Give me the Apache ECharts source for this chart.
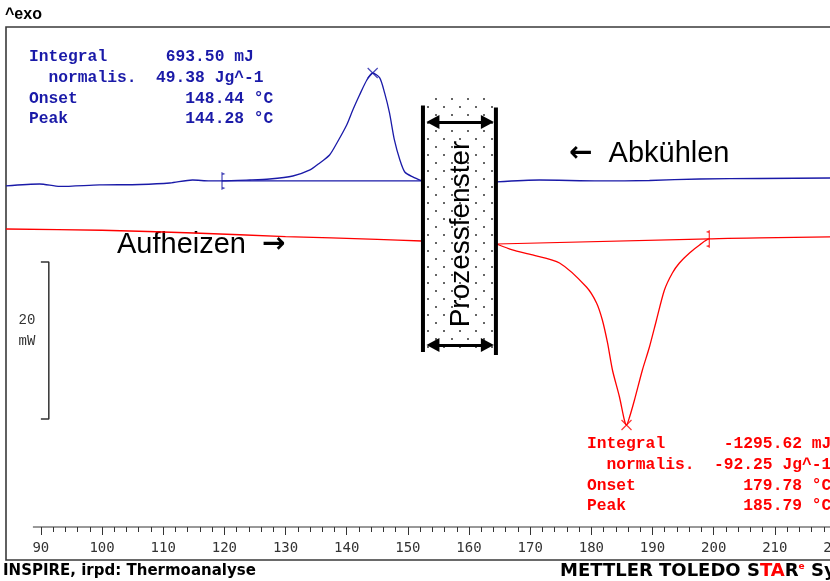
<!DOCTYPE html>
<html>
<head>
<meta charset="utf-8">
<script src="https://cdn.jsdelivr.net/npm/echarts@6/dist/echarts.min.js"></script>
<style>
  html, body { margin: 0; padding: 0; background: #fff; }
  #chart { width: 830px; height: 581px; }
</style>
</head>
<body>
<div id="chart"></div>
<script>
// temperature in °C, heat flow in mW (exo up)
const coolingT  = [84.3, 89.8, 93.1, 99.6, 106.2, 111.1, 114.8, 117.6, 119.6, 124.2, 127.4, 131.2, 134.0, 135.6, 137.2, 138.4, 140.0, 141.0, 142.1, 143.3, 144.25, 145.4, 146.2, 147.0, 147.8, 148.7, 149.5, 150.8, 152.3, 158.0, 164.5, 171.5, 181.3, 189.5, 197.7, 207.5, 220.0];
const coolingMW = [43.44, 43.69, 43.38, 43.57, 43.63, 43.82, 44.20, 44.08, 44.08, 44.20, 44.33, 44.71, 45.48, 46.37, 47.39, 48.92, 51.21, 53.12, 55.03, 56.94, 57.83, 57.20, 55.29, 52.74, 49.30, 46.75, 45.22, 44.59, 44.08, '-', 43.95, 44.20, 44.08, 44.14, 44.33, 44.39, 44.46];
const coolingBaseT  = [119.6, 152.3];
const coolingBaseMW = [44.08, 44.08];

const heatingT  = [84.3, 100.0, 115.0, 130.0, 145.0, 152.3, 158.0, 164.5, 167.1, 170.4, 174.8, 179.2, 180.85, 181.8, 182.65, 183.45, 184.6, 185.4, 185.75, 186.25, 187.05, 188.35, 189.5, 190.65, 191.95, 193.25, 194.4, 196.05, 197.7, 199.3, 207.5, 220.0];
const heatingMW = [37.96, 37.80, 37.45, 37.00, 36.65, 36.43, '-', 36.05, 35.29, 34.65, 33.63, 30.57, 28.54, 26.37, 23.44, 20.00, 16.56, 13.63, 12.99, 14.01, 16.18, 20.00, 22.93, 26.37, 30.19, 32.36, 33.63, 34.90, 35.92, 36.69, 36.82, 36.96];
const heatingBaseT  = [164.5, 199.3];
const heatingBaseMW = [36.05, 36.69];

const coolingPeak = [144.25, 57.83];
const heatingPeak = [185.75, 12.99];
const coolingLimit = [119.6, 44.08];
const heatingLimit = [199.3, 36.69];

// process window (Prozessfenster)
const windowT = [152.47, 164.4];
const windowMW = [22.3, 53.7];
const windowFillMW = [22.6, 54.8];
const windowArrowMW = [51.59, 23.18];
const windowArrowT = [154.1, 163.0];

// 20 mW scale bar
const scaleBarT = [90.0, 91.3];
const scaleBarMW = [13.76, 33.76];

// temperature axis
const axisT = [88.7, 220];
const majorTicks = [90, 100, 110, 120, 130, 140, 150, 160, 170, 180, 190, 200, 210, 220];
const minorTicks = [];
for (let t = 90; t <= 220; t += 2) minorTicks.push(t);

const blueText = ['Integral      693.50 mJ', '  normalis.  49.38 Jg^-1', 'Onset           148.44 °C', 'Peak            144.28 °C'];
const redText  = ['Integral      -1295.62 mJ', '  normalis.  -92.25 Jg^-1', 'Onset           179.78 °C', 'Peak            185.79 °C'];

const BLUE = '#1a1aa8';
const RED = '#ff0000';
const MONO = '"Liberation Mono", "DejaVu Sans Mono", monospace';
const SANS = '"Liberation Sans", Arial, sans-serif';
const BOLD = '"DejaVu Sans", "Liberation Sans", sans-serif';

function zip(xs, ys) {
  return xs.map((x, i) => [x, ys[i]]);
}

function dotPattern() {
  const c = document.createElement('canvas');
  c.width = 16; c.height = 16;
  const g = c.getContext('2d');
  g.fillStyle = '#fff';
  g.fillRect(0, 0, 16, 16);
  g.fillStyle = '#333';
  g.beginPath(); g.arc(4, 3, 1, 0, Math.PI * 2); g.fill();
  g.beginPath(); g.arc(12, 11, 1, 0, Math.PI * 2); g.fill();
  return c;
}

const crossSymbol = 'path://M0,0L10,10M10,0L0,10';
const limitRight = 'path://M0,0L4,2L1.2,3L1.2,15L4,16L0,18Z';
const limitLeft = 'path://M4,0L0,2L2.8,3L2.8,15L0,16L4,18Z';

const chart = echarts.init(document.getElementById('chart'));

const texts = [];
blueText.forEach((s, i) => {
  texts.push({ type: 'text', x: 29, y: 57 + i * 20.7, style: { text: s, fill: BLUE, font: 'bold 16.3px ' + MONO, verticalAlign: 'middle' } });
});
redText.forEach((s, i) => {
  texts.push({ type: 'text', x: 587, y: 444 + i * 20.7, style: { text: s, fill: RED, font: 'bold 16.3px ' + MONO, verticalAlign: 'middle' } });
});

const arrowRich = {
  a: { fill: '#000', color: '#000', fontFamily: '"DejaVu Sans", sans-serif', fontWeight: 'bold', fontSize: 28 },
  t: { fill: '#000', color: '#000', fontFamily: SANS, fontSize: 29 }
};

const option = {
  animation: false,
  backgroundColor: '#fff',
  grid: { left: 6, right: -6, top: 27, bottom: 54, outerBoundsMode: 'none' },
  xAxis: [
    {
      type: 'value', min: 84.3, max: 220, position: 'bottom',
      axisLine: { show: false },
      axisTick: { show: true, customValues: majorTicks, length: 8, lineStyle: { color: '#333' } },
      axisLabel: { customValues: majorTicks, color: '#333', fontFamily: '"DejaVu Sans Mono", monospace', fontSize: 14, margin: 14 },
      splitLine: { show: false }
    },
    {
      type: 'value', min: 84.3, max: 220, position: 'bottom', offset: 0,
      axisLine: { show: false },
      axisTick: { show: true, customValues: minorTicks, length: 5, lineStyle: { color: '#333' } },
      axisLabel: { show: false },
      splitLine: { show: false }
    }
  ],
  yAxis: { type: 'value', min: 0, max: 63.69, show: false },
  series: [
    {
      name: 'Achse', type: 'line', data: [[axisT[0], 0], [axisT[1], 0]], clip: false,
      showSymbol: false, lineStyle: { color: '#333', width: 1 }, z: 1
    },
    {
      name: 'Abkühlen', type: 'line', data: zip(coolingT, coolingMW), smooth: 0.25, clip: false,
      showSymbol: false, lineStyle: { color: BLUE, width: 1.3 }, z: 2
    },
    {
      name: 'Abkühlen Basislinie', type: 'line', data: zip(coolingBaseT, coolingBaseMW), clip: false,
      showSymbol: false, lineStyle: { color: BLUE, width: 1.2 }, z: 2
    },
    {
      name: 'Aufheizen', type: 'line', data: zip(heatingT, heatingMW), smooth: 0.25, clip: false,
      showSymbol: false, lineStyle: { color: RED, width: 1.3 }, z: 2
    },
    {
      name: 'Aufheizen Basislinie', type: 'line', data: zip(heatingBaseT, heatingBaseMW), clip: false,
      showSymbol: false, lineStyle: { color: RED, width: 1.2 }, z: 2
    },
    {
      name: 'Marker', type: 'scatter', clip: false, z: 4,
      data: [
        { value: coolingPeak, symbol: crossSymbol, symbolSize: 10, itemStyle: { color: 'none', borderColor: BLUE, borderWidth: 1.2 } },
        { value: heatingPeak, symbol: crossSymbol, symbolSize: 10, itemStyle: { color: 'none', borderColor: RED, borderWidth: 1.2 } },
        { value: coolingLimit, symbol: limitRight, symbolSize: [4, 18], symbolOffset: [1.5, 0], itemStyle: { color: BLUE } },
        { value: heatingLimit, symbol: limitLeft, symbolSize: [4, 18], symbolOffset: [-1.5, 0], itemStyle: { color: RED } }
      ]
    },
    {
      name: 'Prozessfenster links', type: 'line', clip: false, z: 6,
      data: [[windowT[0], windowMW[0]], [windowT[0], windowMW[1]]],
      showSymbol: false, lineStyle: { color: '#000', width: 4 },
      markArea: {
        silent: true,
        itemStyle: { color: { image: dotPattern(), repeat: 'repeat' } },
        data: [[{ coord: [windowT[0], windowFillMW[1]] }, { coord: [windowT[1], windowFillMW[0]] }]]
      }
    },
    {
      name: 'Prozessfenster rechts', type: 'line', clip: false, z: 6,
      data: [[windowT[1], windowMW[0] - 0.4], [windowT[1], windowMW[1] - 0.25]],
      showSymbol: false, lineStyle: { color: '#000', width: 4 },
      markLine: {
        silent: true,
        symbol: ['triangle', 'triangle'],
        symbolSize: [14, 13],
        label: { show: false },
        lineStyle: { color: '#000', width: 3, type: 'solid' },
        data: windowArrowMW.map(v => [{ coord: [windowArrowT[0], v] }, { coord: [windowArrowT[1], v] }])
      }
    },
    {
      name: '20 mW', type: 'line', clip: false, z: 3,
      data: [[scaleBarT[0], scaleBarMW[0]], [scaleBarT[1], scaleBarMW[0]], [scaleBarT[1], scaleBarMW[1]], [scaleBarT[0], scaleBarMW[1]]],
      showSymbol: false, lineStyle: { color: '#333', width: 1.5 }
    }
  ],
  graphic: [
    { type: 'polyline', silent: true, shape: { points: [[830, 27], [6, 27], [6, 560], [830, 560]] }, style: { stroke: '#3a3a3a', lineWidth: 1.6, fill: null } },
    { type: 'text', x: 5, y: 15, style: { text: '^exo', fill: '#000', font: 'bold 16px ' + SANS, verticalAlign: 'middle' } },
    { type: 'text', x: 3, y: 571, style: { text: 'INSPIRE, irpd: Thermoanalyse', fill: '#000', font: 'bold 15px ' + BOLD, verticalAlign: 'middle' } },
    {
      type: 'text', x: 560, y: 571,
      style: {
        text: '{b|METTLER TOLEDO S}{r|TA}{b|R}{s|e}{b| System}',
        verticalAlign: 'middle',
        rich: {
          b: { fill: '#000', color: '#000', fontFamily: BOLD, fontWeight: 'bold', fontSize: 18 },
          r: { fill: RED, color: RED, fontFamily: BOLD, fontWeight: 'bold', fontSize: 18 },
          s: { fill: RED, color: RED, fontFamily: BOLD, fontWeight: 'bold', fontSize: 9, verticalAlign: 'top' }
        }
      }
    },
    { type: 'text', x: 27, y: 320, style: { text: '20', fill: '#333', font: '14px ' + MONO, align: 'center', verticalAlign: 'middle' } },
    { type: 'text', x: 27, y: 341, style: { text: 'mW', fill: '#333', font: '14px ' + MONO, align: 'center', verticalAlign: 'middle' } },
    { type: 'text', x: 569, y: 154, style: { text: '{a|←}{t|  Abkühlen}', rich: arrowRich, verticalAlign: 'middle' } },
    { type: 'text', x: 117, y: 245, style: { text: '{t|Aufheizen  }{a|→}', rich: arrowRich, verticalAlign: 'middle' } },
    { type: 'text', x: 461, y: 234, rotation: Math.PI / 2, z: 100, style: { text: 'Prozessfenster', fill: '#000', font: '28px ' + SANS, align: 'center', verticalAlign: 'middle' } }
  ].concat(texts)
};

chart.setOption(option);
</script>
</body>
</html>
